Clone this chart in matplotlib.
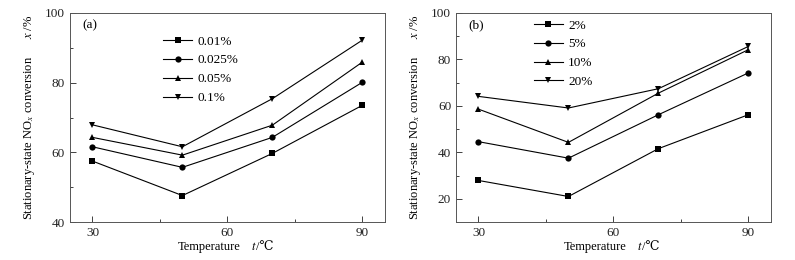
import matplotlib
matplotlib.use("Agg")
import matplotlib.pyplot as plt
from matplotlib.ticker import MultipleLocator

plt.rcParams['font.family'] = ['Liberation Serif', 'DejaVu Serif']
plt.rcParams['mathtext.fontset'] = 'stix'

# data
temps = [30, 50, 70, 90]

labels_a = ['0.01%', '0.025%', '0.05%', '0.1%']
a_001 = [57.5, 47.6, 59.7, 73.5]
a_0025 = [61.6, 55.7, 64.3, 80.1]
a_005 = [64.3, 59.2, 67.8, 85.9]
a_01 = [67.9, 61.6, 75.4, 92.2]

labels_b = ['2%', '5%', '10%', '20%']
b_2 = [27.9, 21.0, 41.6, 56.2]
b_5 = [44.6, 37.5, 56.2, 74.2]
b_10 = [58.6, 44.3, 65.5, 84.2]
b_20 = [64.1, 59.1, 67.4, 85.6]

markers = ['s', 'o', '^', 'v']
FS = 9

fig = plt.figure(figsize=(7.95, 2.6), dpi=100)
ax_a = fig.add_axes([0.088, 0.146, 0.396, 0.804])
ax_b = fig.add_axes([0.5736, 0.146, 0.396, 0.804])


def setup(ax, series, labels, ylim, tag, leg_x, leg_y):
    for ys, m, lab in zip(series, markers, labels):
        ax.plot(temps, ys, color='black', lw=0.8, marker=m, ms=4.5,
                markeredgewidth=0, label=lab)
    ax.set_xlim(25, 95)
    ax.set_ylim(*ylim)
    ax.xaxis.set_major_locator(MultipleLocator(30))
    ax.xaxis.set_minor_locator(MultipleLocator(15))
    ax.yaxis.set_major_locator(MultipleLocator(20))
    ax.yaxis.set_minor_locator(MultipleLocator(10))
    ax.tick_params(which='both', direction='in', top=False, right=False,
                   labelsize=FS + 0.5, width=0.6, colors='#222222')
    ax.tick_params(which='major', length=4)
    ax.tick_params(which='minor', length=2)
    for s in ax.spines.values():
        s.set_linewidth(0.7)
        s.set_color('#555555')
    ax.text(0.04, 0.94, tag, transform=ax.transAxes, fontsize=FS + 0.5,
            va='center', ha='left')
    # x label in pieces so the degree sign comes from a font that has it
    ax.text(0.343, -0.12, 'Temperature', transform=ax.transAxes,
            fontsize=FS, ha='left', va='center')
    ax.text(0.575, -0.12, '$t$', transform=ax.transAxes,
            fontsize=FS, ha='left', va='center')
    ax.text(0.592, -0.12, '/\u2103', transform=ax.transAxes, fontsize=FS,
            ha='left', va='center',
            family=['Liberation Serif', 'DejaVu Serif'])
    ax.set_ylabel('Stationary-state NO$_x$ conversion      $x$ /%',
                  fontsize=FS, labelpad=6)
    ax.legend(loc='upper left', bbox_to_anchor=(leg_x, leg_y), frameon=False,
              fontsize=FS + 0.5, handlelength=2.2, handletextpad=0.4,
              labelspacing=0.5, borderaxespad=0)


setup(ax_a, [a_001, a_0025, a_005, a_01], labels_a, (40, 100), '(a)', 0.28, 0.918)
setup(ax_b, [b_2, b_5, b_10, b_20], labels_b, (10, 100), '(b)', 0.23, 0.995)

fig.savefig('out.png', dpi=100)
